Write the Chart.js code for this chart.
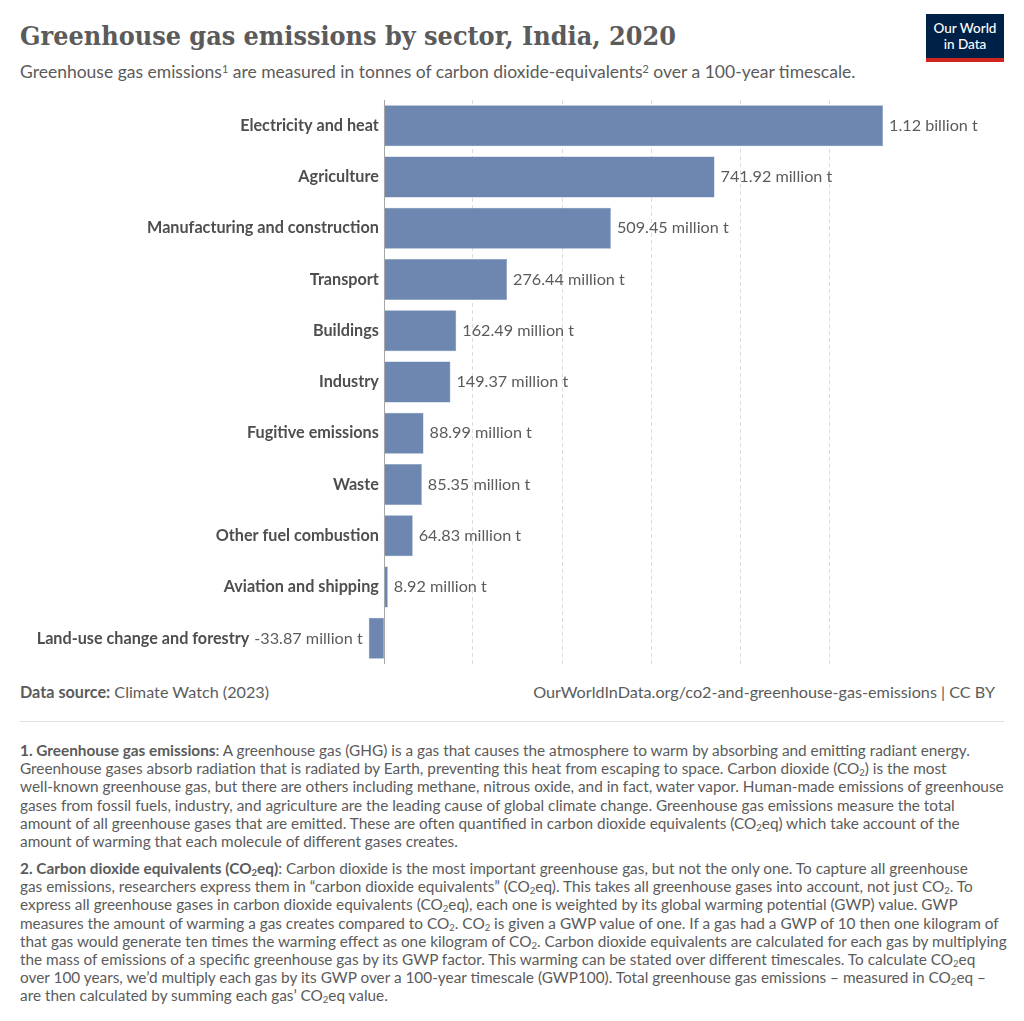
<!DOCTYPE html>
<html>
<head>
<meta charset="utf-8">
<script src="https://cdn.jsdelivr.net/npm/chart.js@4.4.1/dist/chart.umd.min.js"></script>
<style>
  html, body { margin: 0; padding: 0; background: #fff; }
  body { width: 1024px; height: 1021px; position: relative; overflow: hidden; font-family: Lato, "Open Sans", sans-serif; color: #5b5b5b; }
  #title { position: absolute; left: 20px; top: 14px; font-family: "DejaVu Serif Condensed", "DejaVu Serif", serif; font-stretch: condensed; font-weight: bold; font-size: 30px; line-height: 44px; color: #5b5b5b; white-space: nowrap; }
  #subtitle { position: absolute; left: 20px; top: 61px; font-size: 17.5px; line-height: 22px; color: #5b5b5b; white-space: nowrap; }
  #logo { position: absolute; left: 926px; top: 14px; width: 78px; background: #002147; border-bottom: 4px solid #ce261e; color: #fff; font-size: 13.5px; line-height: 16px; text-align: center; padding-top: 6px; height: 38px; box-sizing: content-box; font-weight: 500; }
  #chartwrap { position: absolute; left: 0; top: 90px; width: 1024px; height: 590px; }
  #source { position: absolute; left: 20px; top: 681px; font-size: 16.2px; line-height: 22px; white-space: nowrap; }
  #url { position: absolute; right: 29px; top: 681px; font-size: 16.2px; line-height: 22px; white-space: nowrap; }
  #sep { position: absolute; left: 20px; top: 721px; width: 984px; height: 1px; background: #e0e0e0; }
  .note { position: absolute; left: 20px; font-size: 15.35px; line-height: 18.2px; color: #5b5b5b; white-space: nowrap; }
  sub { font-size: 0.62em; vertical-align: -0.25em; line-height: 0; }
  sup { font-size: 0.62em; vertical-align: 0.5em; line-height: 0; }
</style>
</head>
<body>
<div id="title">Greenhouse gas emissions by sector, India, 2020</div>
<div id="subtitle">Greenhouse gas emissions<sup>1</sup> are measured in tonnes of carbon dioxide-equivalents<sup>2</sup> over a 100-year timescale.</div>
<div id="logo">Our World<br>in Data</div>
<div id="chartwrap"><canvas id="c"></canvas></div>
<div id="source"><b>Data source:</b> Climate Watch (2023)</div>
<div id="url">OurWorldInData.org/co2-and-greenhouse-gas-emissions | CC BY</div>
<div id="sep"></div>
<div class="note" style="top:741px;"><b>1. Greenhouse gas emissions</b>: A greenhouse gas (GHG) is a gas that causes the atmosphere to warm by absorbing and emitting radiant energy.<br>Greenhouse gases absorb radiation that is radiated by Earth, preventing this heat from escaping to space. Carbon dioxide (CO<sub>2</sub>) is the most<br>well-known greenhouse gas, but there are others including methane, nitrous oxide, and in fact, water vapor. Human-made emissions of greenhouse<br>gases from fossil fuels, industry, and agriculture are the leading cause of global climate change. Greenhouse gas emissions measure the total<br>amount of all greenhouse gases that are emitted. These are often quantified in carbon dioxide equivalents (CO<sub>2</sub>eq) which take account of the<br>amount of warming that each molecule of different gases creates.</div>
<div class="note" style="top:859px;"><b>2. Carbon dioxide equivalents (CO<sub>2</sub>eq)</b>: Carbon dioxide is the most important greenhouse gas, but not the only one. To capture all greenhouse<br>gas emissions, researchers express them in “carbon dioxide equivalents” (CO<sub>2</sub>eq). This takes all greenhouse gases into account, not just CO<sub>2</sub>. To<br>express all greenhouse gases in carbon dioxide equivalents (CO<sub>2</sub>eq), each one is weighted by its global warming potential (GWP) value. GWP<br>measures the amount of warming a gas creates compared to CO<sub>2</sub>. CO<sub>2</sub> is given a GWP value of one. If a gas had a GWP of 10 then one kilogram of<br>that gas would generate ten times the warming effect as one kilogram of CO<sub>2</sub>. Carbon dioxide equivalents are calculated for each gas by multiplying<br>the mass of emissions of a specific greenhouse gas by its GWP factor. This warming can be stated over different timescales. To calculate CO<sub>2</sub>eq<br>over 100 years, we’d multiply each gas by its GWP over a 100-year timescale (GWP100). Total greenhouse gas emissions – measured in CO<sub>2</sub>eq –<br>are then calculated by summing each gas’ CO<sub>2</sub>eq value.</div>
<script>
const categories = ["Electricity and heat", "Agriculture", "Manufacturing and construction", "Transport", "Buildings", "Industry", "Fugitive emissions", "Waste", "Other fuel combustion", "Aviation and shipping", "Land-use change and forestry"];
const emissions = [1.12e9, 741.92e6, 509.45e6, 276.44e6, 162.49e6, 149.37e6, 88.99e6, 85.35e6, 64.83e6, 8.92e6, -33.87e6];
const valueLabels = ["1.12 billion t", "741.92 million t", "509.45 million t", "276.44 million t", "162.49 million t", "149.37 million t", "88.99 million t", "85.35 million t", "64.83 million t", "8.92 million t", "-33.87 million t"];
const gridTicks = [0.2e9, 0.4e9, 0.6e9, 0.8e9, 1.0e9];

// fit title width to reference (656px)
(function () {
  const t = document.getElementById('title');
  const w = t.getBoundingClientRect().width;
  if (w > 0) t.style.fontSize = (30 * 656 / w).toFixed(2) + 'px';
})();

const labelPlugin = {
  id: 'labels',
  afterDatasetsDraw(chart) {
    const ctx = chart.ctx;
    const xs = chart.scales.x;
    const meta = chart.getDatasetMeta(0);
    const x0 = xs.getPixelForValue(0);
    ctx.save();
    ctx.strokeStyle = '#a6a6a6';
    ctx.lineWidth = 1;
    ctx.beginPath();
    ctx.moveTo(Math.round(x0) + 0.5, chart.chartArea.top);
    ctx.lineTo(Math.round(x0) + 0.5, chart.chartArea.bottom);
    ctx.stroke();
    ctx.textBaseline = 'middle';
    emissions.forEach((v, i) => {
      const bar = meta.data[i];
      const y = bar.y;
      ctx.font = '16.2px Lato';
      ctx.fillStyle = '#5b5b5b';
      let catRight = x0 - 5;
      if (v >= 0) {
        ctx.textAlign = 'left';
        ctx.fillText(valueLabels[i], bar.x + 6, y);
      } else {
        ctx.textAlign = 'right';
        ctx.fillText(valueLabels[i], bar.x - 6, y);
        const w = ctx.measureText(valueLabels[i]).width;
        catRight = bar.x - 6 - w - 5;
      }
      ctx.font = 'bold 16.2px Lato';
      ctx.fillStyle = '#4e4e4e';
      ctx.textAlign = 'right';
      ctx.fillText(categories[i], catRight, y);
    });
    ctx.restore();
  }
};

new Chart(document.getElementById('c'), {
  type: 'bar',
  data: {
    labels: categories,
    datasets: [{
      data: emissions,
      backgroundColor: '#6d87b0',
      borderColor: '#7e95bb',
      borderWidth: 0.5,
      barPercentage: 0.8,
      categoryPercentage: 1.0
    }]
  },
  options: {
    indexAxis: 'y',
    responsive: true,
    maintainAspectRatio: false,
    animation: false,
    layout: { padding: { left: 366, right: 34, top: 10, bottom: 16 } },
    plugins: { legend: { display: false }, tooltip: { enabled: false } },
    scales: {
      x: {
        min: -0.04e9,
        max: 1.36e9,
        afterBuildTicks(scale) { scale.ticks = gridTicks.map(v => ({ value: v })); },
        ticks: { display: false },
        grid: { color: '#dddddd', drawTicks: false, lineWidth: 1 },
        border: { display: false, dash: [4, 3] }
      },
      y: {
        ticks: { display: false },
        grid: { display: false, drawTicks: false },
        border: { display: false }
      }
    }
  },
  plugins: [labelPlugin]
});
</script>
</body>
</html>
